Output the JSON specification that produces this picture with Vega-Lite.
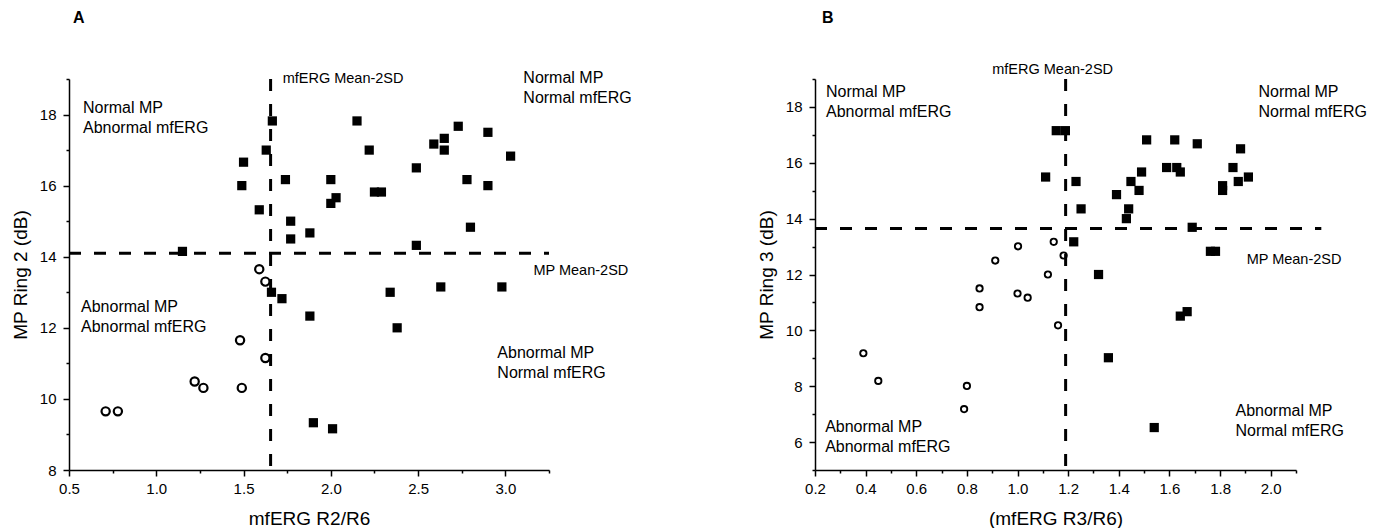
{
  "$schema": "https://vega.github.io/schema/vega-lite/v6.json",
  "background": "white",
  "padding": {"left": 11, "top": 10, "right": 0, "bottom": 0},
  "spacing": 266,
  "bounds": "flush",
  "datasets": {
    "a_points": [
      {"x": 1.15, "y": 14.15, "group": "other"},
      {"x": 1.49, "y": 16.0, "group": "other"},
      {"x": 1.50, "y": 16.66, "group": "other"},
      {"x": 1.59, "y": 15.32, "group": "other"},
      {"x": 1.63, "y": 17.0, "group": "other"},
      {"x": 1.665, "y": 17.82, "group": "other"},
      {"x": 1.66, "y": 13.0, "group": "other"},
      {"x": 1.72, "y": 12.82, "group": "other"},
      {"x": 1.74, "y": 16.17, "group": "other"},
      {"x": 1.77, "y": 15.0, "group": "other"},
      {"x": 1.77, "y": 14.5, "group": "other"},
      {"x": 1.88, "y": 14.67, "group": "other"},
      {"x": 1.88, "y": 12.33, "group": "other"},
      {"x": 1.90, "y": 9.33, "group": "other"},
      {"x": 2.0, "y": 16.17, "group": "other"},
      {"x": 2.03, "y": 15.66, "group": "other"},
      {"x": 2.0, "y": 15.5, "group": "other"},
      {"x": 2.01, "y": 9.16, "group": "other"},
      {"x": 2.15, "y": 17.82, "group": "other"},
      {"x": 2.22, "y": 17.0, "group": "other"},
      {"x": 2.25, "y": 15.82, "group": "other"},
      {"x": 2.29, "y": 15.82, "group": "other"},
      {"x": 2.34, "y": 13.0, "group": "other"},
      {"x": 2.38, "y": 12.0, "group": "other"},
      {"x": 2.49, "y": 16.5, "group": "other"},
      {"x": 2.49, "y": 14.32, "group": "other"},
      {"x": 2.59, "y": 17.17, "group": "other"},
      {"x": 2.65, "y": 17.33, "group": "other"},
      {"x": 2.65, "y": 17.0, "group": "other"},
      {"x": 2.63, "y": 13.15, "group": "other"},
      {"x": 2.73, "y": 17.67, "group": "other"},
      {"x": 2.78, "y": 16.17, "group": "other"},
      {"x": 2.80, "y": 14.83, "group": "other"},
      {"x": 2.90, "y": 17.5, "group": "other"},
      {"x": 2.90, "y": 16.0, "group": "other"},
      {"x": 2.98, "y": 13.15, "group": "other"},
      {"x": 3.03, "y": 16.83, "group": "other"},
      {"x": 1.59, "y": 13.65, "group": "abnormal"},
      {"x": 1.625, "y": 13.3, "group": "abnormal"},
      {"x": 1.48, "y": 11.65, "group": "abnormal"},
      {"x": 1.625, "y": 11.15, "group": "abnormal"},
      {"x": 1.22, "y": 10.49, "group": "abnormal"},
      {"x": 1.27, "y": 10.31, "group": "abnormal"},
      {"x": 1.49, "y": 10.31, "group": "abnormal"},
      {"x": 0.71, "y": 9.65, "group": "abnormal"},
      {"x": 0.78, "y": 9.65, "group": "abnormal"}
    ],
    "b_points": [
      {"x": 1.153, "y": 17.15, "group": "other"},
      {"x": 1.189, "y": 17.15, "group": "other"},
      {"x": 1.111, "y": 15.49, "group": "other"},
      {"x": 1.231, "y": 15.33, "group": "other"},
      {"x": 1.251, "y": 14.35, "group": "other"},
      {"x": 1.222, "y": 13.17, "group": "other"},
      {"x": 1.32, "y": 12.0, "group": "other"},
      {"x": 1.359, "y": 9.02, "group": "other"},
      {"x": 1.391, "y": 14.86, "group": "other"},
      {"x": 1.43, "y": 14.0, "group": "other"},
      {"x": 1.439, "y": 14.35, "group": "other"},
      {"x": 1.448, "y": 15.33, "group": "other"},
      {"x": 1.48, "y": 15.01, "group": "other"},
      {"x": 1.49, "y": 15.67, "group": "other"},
      {"x": 1.51, "y": 16.82, "group": "other"},
      {"x": 1.54, "y": 6.52, "group": "other"},
      {"x": 1.589, "y": 15.83, "group": "other"},
      {"x": 1.621, "y": 16.82, "group": "other"},
      {"x": 1.629, "y": 15.83, "group": "other"},
      {"x": 1.643, "y": 15.67, "group": "other"},
      {"x": 1.643, "y": 10.51, "group": "other"},
      {"x": 1.67, "y": 10.67, "group": "other"},
      {"x": 1.69, "y": 13.69, "group": "other"},
      {"x": 1.71, "y": 16.68, "group": "other"},
      {"x": 1.762, "y": 12.83, "group": "other"},
      {"x": 1.782, "y": 12.83, "group": "other"},
      {"x": 1.81, "y": 15.18, "group": "other"},
      {"x": 1.81, "y": 15.01, "group": "other"},
      {"x": 1.851, "y": 15.83, "group": "other"},
      {"x": 1.872, "y": 15.33, "group": "other"},
      {"x": 1.881, "y": 16.5, "group": "other"},
      {"x": 1.912, "y": 15.49, "group": "other"},
      {"x": 0.391, "y": 9.18, "group": "abnormal"},
      {"x": 0.45, "y": 8.19, "group": "abnormal"},
      {"x": 0.789, "y": 7.18, "group": "abnormal"},
      {"x": 0.80, "y": 8.01, "group": "abnormal"},
      {"x": 0.85, "y": 11.5, "group": "abnormal"},
      {"x": 0.85, "y": 10.83, "group": "abnormal"},
      {"x": 0.912, "y": 12.5, "group": "abnormal"},
      {"x": 1.002, "y": 13.01, "group": "abnormal"},
      {"x": 1.0, "y": 11.32, "group": "abnormal"},
      {"x": 1.04, "y": 11.17, "group": "abnormal"},
      {"x": 1.12, "y": 12.0, "group": "abnormal"},
      {"x": 1.143, "y": 13.17, "group": "abnormal"},
      {"x": 1.16, "y": 10.18, "group": "abnormal"},
      {"x": 1.182, "y": 12.68, "group": "abnormal"}
    ],
    "a_lines": [
      {"orient": "h", "pos": 14.1, "from": 0.5, "to": 3.25},
      {"orient": "v", "pos": 1.655, "from": 19, "to": 8}
    ],
    "b_lines": [
      {"orient": "h", "pos": 13.65, "from": 0.2, "to": 2.2},
      {"orient": "v", "pos": 1.19, "from": 19, "to": 5}
    ],
    "a_labels": [
      {"kind": "panel", "x": 0.523, "y": 20.57, "label": "A"},
      {"kind": "threshold", "x": 1.724, "y": 18.89, "label": "mfERG Mean-2SD"},
      {"kind": "threshold", "x": 3.161, "y": 13.49, "label": "MP Mean-2SD"},
      {"kind": "quadrant", "x": 3.103, "y": 18.89, "label": "Normal MP\nNormal mfERG"},
      {"kind": "quadrant", "x": 0.58, "y": 18.04, "label": "Normal MP\nAbnormal mfERG"},
      {"kind": "quadrant", "x": 0.569, "y": 12.45, "label": "Abnormal MP\nAbnormal mfERG"},
      {"kind": "quadrant", "x": 2.954, "y": 11.15, "label": "Abnormal MP\nNormal mfERG"}
    ],
    "b_labels": [
      {"kind": "panel", "x": 0.228, "y": 21.0, "label": "B"},
      {"kind": "threshold", "x": 0.9, "y": 19.18, "label": "mfERG Mean-2SD"},
      {"kind": "threshold", "x": 1.905, "y": 12.36, "label": "MP Mean-2SD"},
      {"kind": "quadrant", "x": 0.2435, "y": 18.36, "label": "Normal MP\nAbnormal mfERG"},
      {"kind": "quadrant", "x": 1.952, "y": 18.36, "label": "Normal MP\nNormal mfERG"},
      {"kind": "quadrant", "x": 0.24, "y": 6.36, "label": "Abnormal MP\nAbnormal mfERG"},
      {"kind": "quadrant", "x": 1.861, "y": 6.93, "label": "Abnormal MP\nNormal mfERG"}
    ]
  },
  "hconcat": [
    {
      "width": 480,
      "height": 391,
      "layer": [
        {
          "data": {"name": "a_points"},
          "transform": [{"filter": "datum.group === 'other'"}],
          "mark": {"type": "point", "shape": "square", "filled": true, "color": "black", "size": 85, "opacity": 1},
          "encoding": {
            "x": {"field": "x", "type": "quantitative", "scale": {"domain": [0.5, 3.25], "nice": false, "zero": false},
              "axis": {"orient": "bottom", "title": "mfERG R2/R6", "values": [0.5, 1, 1.5, 2, 2.5, 3], "format": ".1f"}},
            "y": {"field": "y", "type": "quantitative", "scale": {"domain": [8, 19], "nice": false, "zero": false},
              "axis": {"orient": "left", "title": "MP Ring 2 (dB)", "values": [8, 10, 12, 14, 16, 18], "format": "d"}}
          }
        },
        {
          "data": {"name": "a_points"},
          "transform": [{"filter": "datum.group === 'abnormal'"}],
          "mark": {"type": "point", "shape": "circle", "filled": false, "stroke": "black", "strokeWidth": 2.2, "size": 68, "opacity": 1},
          "encoding": {
            "x": {"field": "x", "type": "quantitative", "scale": {"domain": [0.5, 3.25], "nice": false, "zero": false},
              "axis": {"orient": "bottom", "title": null, "labels": false, "domain": false, "tickSize": 3, "values": [0.75, 1.25, 1.75, 2.25, 2.75, 3.25]}},
            "y": {"field": "y", "type": "quantitative", "scale": {"domain": [8, 19], "nice": false, "zero": false},
              "axis": {"orient": "left", "title": null, "labels": false, "domain": false, "tickSize": 3, "values": [9, 11, 13, 15, 17, 19]}}
          }
        },
        {
          "data": {"name": "a_lines"},
          "transform": [{"filter": "datum.orient === 'h'"}],
          "mark": {"type": "rule", "color": "black", "strokeWidth": 3, "strokeDash": [12, 13]},
          "encoding": {
            "y": {"field": "pos", "type": "quantitative", "axis": null},
            "x": {"field": "from", "type": "quantitative", "axis": null},
            "x2": {"field": "to"}
          }
        },
        {
          "data": {"name": "a_lines"},
          "transform": [{"filter": "datum.orient === 'v'"}],
          "mark": {"type": "rule", "color": "black", "strokeWidth": 3, "strokeDash": [12, 13]},
          "encoding": {
            "x": {"field": "pos", "type": "quantitative", "axis": null},
            "y": {"field": "from", "type": "quantitative", "axis": null},
            "y2": {"field": "to"}
          }
        },
        {
          "data": {"name": "a_labels"},
          "transform": [{"filter": "datum.kind === 'quadrant'"}],
          "mark": {"type": "text", "align": "left", "baseline": "alphabetic", "lineBreak": "\n", "lineHeight": 20, "fontSize": 16, "color": "black"},
          "encoding": {
            "x": {"field": "x", "type": "quantitative", "axis": null},
            "y": {"field": "y", "type": "quantitative", "axis": null},
            "text": {"field": "label"}
          }
        },
        {
          "data": {"name": "a_labels"},
          "transform": [{"filter": "datum.kind === 'threshold'"}],
          "mark": {"type": "text", "align": "left", "baseline": "alphabetic", "fontSize": 14.5, "color": "black"},
          "encoding": {
            "x": {"field": "x", "type": "quantitative", "axis": null},
            "y": {"field": "y", "type": "quantitative", "axis": null},
            "text": {"field": "label"}
          }
        },
        {
          "data": {"name": "a_labels"},
          "transform": [{"filter": "datum.kind === 'panel'"}],
          "mark": {"type": "text", "align": "left", "baseline": "alphabetic", "fontSize": 16, "fontWeight": "bold", "color": "black"},
          "encoding": {
            "x": {"field": "x", "type": "quantitative", "axis": null},
            "y": {"field": "y", "type": "quantitative", "axis": null},
            "text": {"field": "label"}
          }
        }
      ],
      "resolve": {"axis": {"x": "independent", "y": "independent"}}
    },
    {
      "width": 481,
      "height": 391,
      "layer": [
        {
          "data": {"name": "b_points"},
          "transform": [{"filter": "datum.group === 'other'"}],
          "mark": {"type": "point", "shape": "square", "filled": true, "color": "black", "size": 85, "opacity": 1},
          "encoding": {
            "x": {"field": "x", "type": "quantitative", "scale": {"domain": [0.2, 2.1], "nice": false, "zero": false},
              "axis": {"orient": "bottom", "title": "(mfERG R3/R6)", "values": [0.2, 0.4, 0.6, 0.8, 1.0, 1.2, 1.4, 1.6, 1.8, 2.0], "format": ".1f"}},
            "y": {"field": "y", "type": "quantitative", "scale": {"domain": [5, 19], "nice": false, "zero": false},
              "axis": {"orient": "left", "title": "MP Ring 3 (dB)", "values": [6, 8, 10, 12, 14, 16, 18], "format": "d"}}
          }
        },
        {
          "data": {"name": "b_points"},
          "transform": [{"filter": "datum.group === 'abnormal'"}],
          "mark": {"type": "point", "shape": "circle", "filled": false, "stroke": "black", "strokeWidth": 1.9, "size": 40, "opacity": 1},
          "encoding": {
            "x": {"field": "x", "type": "quantitative", "scale": {"domain": [0.2, 2.1], "nice": false, "zero": false},
              "axis": {"orient": "bottom", "title": null, "labels": false, "domain": false, "tickSize": 3, "values": [0.3, 0.5, 0.7, 0.9, 1.1, 1.3, 1.5, 1.7, 1.9, 2.1]}},
            "y": {"field": "y", "type": "quantitative", "scale": {"domain": [5, 19], "nice": false, "zero": false},
              "axis": {"orient": "left", "title": null, "labels": false, "domain": false, "tickSize": 3, "values": [5, 7, 9, 11, 13, 15, 17, 19]}}
          }
        },
        {
          "data": {"name": "b_lines"},
          "transform": [{"filter": "datum.orient === 'h'"}],
          "mark": {"type": "rule", "color": "black", "strokeWidth": 3, "strokeDash": [12, 13]},
          "encoding": {
            "y": {"field": "pos", "type": "quantitative", "axis": null},
            "x": {"field": "from", "type": "quantitative", "axis": null},
            "x2": {"field": "to"}
          }
        },
        {
          "data": {"name": "b_lines"},
          "transform": [{"filter": "datum.orient === 'v'"}],
          "mark": {"type": "rule", "color": "black", "strokeWidth": 3, "strokeDash": [12, 13]},
          "encoding": {
            "x": {"field": "pos", "type": "quantitative", "axis": null},
            "y": {"field": "from", "type": "quantitative", "axis": null},
            "y2": {"field": "to"}
          }
        },
        {
          "data": {"name": "b_labels"},
          "transform": [{"filter": "datum.kind === 'quadrant'"}],
          "mark": {"type": "text", "align": "left", "baseline": "alphabetic", "lineBreak": "\n", "lineHeight": 20, "fontSize": 16, "color": "black"},
          "encoding": {
            "x": {"field": "x", "type": "quantitative", "axis": null},
            "y": {"field": "y", "type": "quantitative", "axis": null},
            "text": {"field": "label"}
          }
        },
        {
          "data": {"name": "b_labels"},
          "transform": [{"filter": "datum.kind === 'threshold'"}],
          "mark": {"type": "text", "align": "left", "baseline": "alphabetic", "fontSize": 14.5, "color": "black"},
          "encoding": {
            "x": {"field": "x", "type": "quantitative", "axis": null},
            "y": {"field": "y", "type": "quantitative", "axis": null},
            "text": {"field": "label"}
          }
        },
        {
          "data": {"name": "b_labels"},
          "transform": [{"filter": "datum.kind === 'panel'"}],
          "mark": {"type": "text", "align": "left", "baseline": "alphabetic", "fontSize": 16, "fontWeight": "bold", "color": "black"},
          "encoding": {
            "x": {"field": "x", "type": "quantitative", "axis": null},
            "y": {"field": "y", "type": "quantitative", "axis": null},
            "text": {"field": "label"}
          }
        }
      ],
      "resolve": {"axis": {"x": "independent", "y": "independent"}}
    }
  ],
  "config": {
    "font": "Liberation Sans",
    "view": {"stroke": null},
    "axis": {
      "grid": false,
      "domainColor": "black",
      "domainWidth": 1.5,
      "tickColor": "black",
      "tickWidth": 1.5,
      "tickSize": 6,
      "labelColor": "black",
      "labelFont": "Liberation Sans",
      "labelFontSize": 15,
      "titleColor": "black",
      "titleFont": "Liberation Sans",
      "titleFontSize": 19,
      "titleFontWeight": "normal",
      "labelFlush": false,
      "labelOverlap": false
    },
    "axisX": {"labelPadding": 5, "titlePadding": 13},
    "axisY": {"labelPadding": 7, "titlePadding": 9}
  }
}
